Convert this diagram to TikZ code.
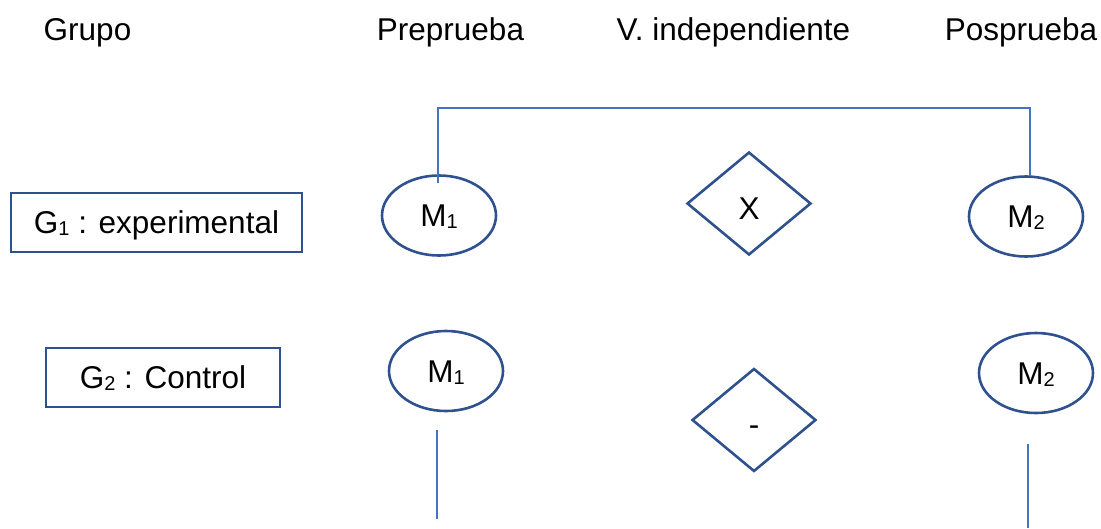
\documentclass[tikz,border=0pt]{standalone}
\usepackage{fontspec}
\setmainfont{Liberation Sans}
\usetikzlibrary{shapes.geometric}
\definecolor{shapeblue}{HTML}{2F528F}
\definecolor{lineblue}{HTML}{4472C4}
\newcommand\lowsub[1]{\raisebox{-2pt}{\fontsize{20}{20}\selectfont #1}}
\tikzset{
  txt/.style={font=\fontsize{31.5}{36}\selectfont, inner sep=0pt},
  title/.style={txt, anchor=base},
  groupbox/.style={txt, draw=shapeblue, line width=2.6pt, rectangle,
    minimum height=59pt, text height=22.3pt, text depth=0pt},
  meas/.style={txt, draw=shapeblue, line width=2.6pt, ellipse,
    minimum width=114pt, minimum height=80pt, text height=22.3pt, text depth=0pt},
  treat/.style={txt, draw=shapeblue, line width=2.6pt, diamond, aspect=1.2,
    minimum width=124pt, minimum height=103pt, text height=22.3pt, text depth=0pt},
  conn/.style={draw=lineblue, line width=1.4pt}
}
\begin{document}
\begin{tikzpicture}[x=1pt,y=-1pt]
\useasboundingbox (0,0) rectangle (1101,528);
% titles
\node[title] (tg) at (87.5,40) {Grupo};
\node[title] (tpre) at (450.5,40) {Preprueba};
\node[title] (tvi) at (733.5,40) {V. independiente};
\node[title] (tpos) at (1021,40) {Posprueba};
% groups
\node[groupbox, minimum width=291pt] (g1) at (156.5,222.5) {G\lowsub{1} : experimental};
\node[groupbox, minimum width=234pt] (g2) at (163,377.5) {G\lowsub{2} : Control};
% measures
\node[meas] (m1a) at (439,215.5) {M\lowsub{1}};
\node[meas] (m2a) at (1026,216.5) {M\lowsub{2}};
\node[meas] (m1b) at (446,371) {M\lowsub{1}};
\node[meas] (m2b) at (1036,373) {M\lowsub{2}};
% treatments
\node[treat] (xa) at (749,203.5) {\raisebox{-5pt}{X}};
\node[treat] (xb) at (754,420) {\raisebox{-4.5pt}{-}};
% connectors
\coordinate (m1atop) at (438,183);
\coordinate (topbar) at (734,108);
\coordinate (m2atop) at (1030,176);
\draw[conn] (m1atop) |- (topbar) -| (m2atop);
\coordinate (l1s) at (437,430);
\coordinate (l1e) at (437,519);
\coordinate (l2s) at (1028,444);
\coordinate (l2e) at (1028,528);
\draw[conn] (l1s) -- (l1e);
\draw[conn] (l2s) -- (l2e);
\end{tikzpicture}
\end{document}
